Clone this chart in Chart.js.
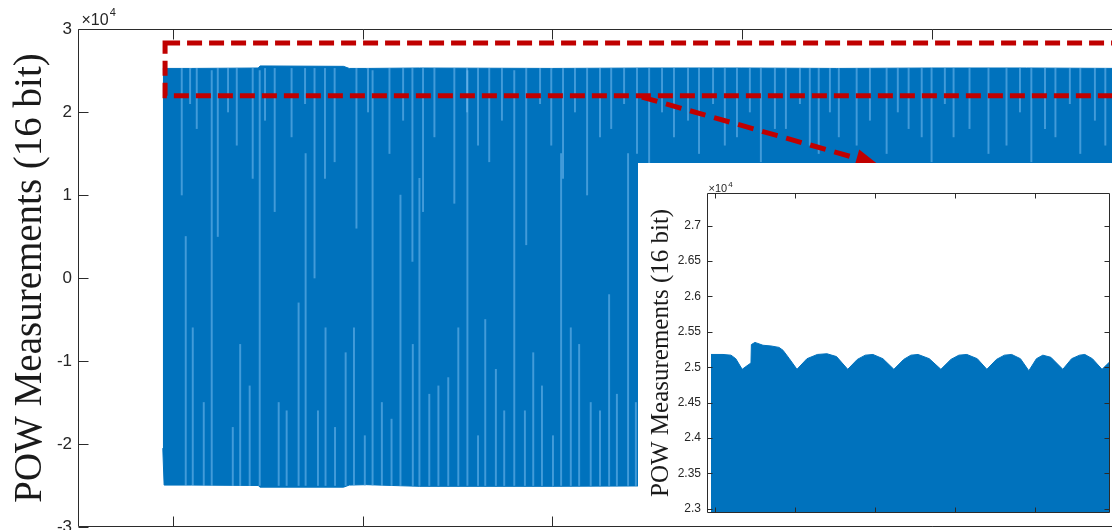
<!DOCTYPE html>
<html>
<head>
<meta charset="utf-8">
<script src="https://cdn.jsdelivr.net/npm/chart.js@4.4.0/dist/chart.umd.min.js"></script>
<style>
  html, body { margin:0; padding:0; background:#fff; overflow:hidden; }
  #wrap { position:relative; width:1112px; height:530px; overflow:hidden; }
  #main { position:absolute; left:0; top:0; }
  #inset { position:absolute; left:638px; top:163px; background:#fff; }
</style>
</head>
<body>
<div id="wrap">
<canvas id="main" width="1300" height="600"></canvas>
<canvas id="inset" width="480" height="363"></canvas>
</div>
<script>
// ---- main trace: envelope of the POW samples (raw 16 bit counts)
var mainX     = [-0.053, -0.046, 0.1, 0.45, 0.46, 0.9, 0.93, 1.02, 1.3, 2.0, 2.5, 3.0, 3.5, 4.0, 4.5, 5.0, 5.5];
var mainUpper = [25200, 25250, 25250, 25300, 25550, 25500, 25250, 25250, 25300, 25250, 25300, 25300, 25250, 25300, 25300, 25250, 25300];
var mainLower = [-20500, -24950, -24950, -25000, -25200, -25200, -24950, -24900, -25100, -25100, -25050, -25100, -25100, -25050, -25100, -25100, -25100];
var mainTicks = [-30000, -20000, -10000, 0, 10000, 20000, 30000];

// light gaps rising from the negative peaks (x, reached level)
var gapLowX  = [0.068, 0.105, 0.163, 0.205, 0.316, 0.355, 0.405, 0.458, 0.558, 0.6, 0.663, 0.7, 0.765, 0.805, 0.855, 0.911, 0.955, 1.012, 1.053, 1.102, 1.153, 1.2, 1.265, 1.3, 1.352, 1.4, 1.452, 1.505, 1.553, 1.609, 1.647, 1.703, 1.747, 1.8, 1.856, 1.9, 1.946, 2.004, 2.047, 2.098, 2.142, 2.203, 2.252, 2.3, 2.341, 2.4, 2.441];
var gapLowTo = [5000, -6000, -15000, 25000, -18000, -8000, -13000, 25000, -15000, -16000, -3000, 15000, -16000, -6000, -18000, -9000, -6000, -19000, 25000, -15000, -17000, 10000, -8000, 12000, -14000, -13000, -12000, -6000, 25000, -19000, -5000, -11000, -16000, 25000, -16000, -9000, -13000, -19000, 15000, -6000, -8000, -15000, -16000, -2000, -14000, 15000, -15000];

// light gaps hanging from the positive peaks (x, reached level)
var gapHighX    = [0.047, 0.091, 0.126, 0.237, 0.291, 0.337, 0.421, 0.486, 0.537, 0.626, 0.697, 0.747, 0.802, 0.853, 0.968, 1.029, 1.142, 1.214, 1.263, 1.319, 1.379, 1.484, 1.551, 1.609, 1.668, 1.735, 1.863, 1.936, 1.995, 2.057, 2.12, 2.184, 2.252, 2.311, 2.379, 2.447, 2.511, 2.579, 2.642, 2.716, 2.774, 2.848, 2.91, 2.974, 3.042, 3.1, 3.174, 3.232, 3.306, 3.358, 3.405, 3.464, 3.511, 3.605, 3.675, 3.763, 3.822, 3.879, 3.948, 4.0, 4.07, 4.116, 4.2, 4.3, 4.395, 4.466, 4.526, 4.598, 4.653, 4.729, 4.784, 4.861, 4.916];
var gapHighFrom = [10000, 21000, 18000, 5000, 20000, 16000, 12000, 19000, 8000, 17000, 21000, 0, 12000, 14000, 6000, 20000, 15000, 19000, 2000, 8000, 17000, 9000, 20000, 16000, 14000, 19000, 4000, 21000, 16000, 12000, 20000, 10000, 17000, 18000, 21000, 15000, 12000, 20000, 17000, 19000, 15000, 21000, 16000, 17000, 20000, 14000, 18000, 18000, 21000, 16000, 15000, 20000, 17000, 16000, 19000, 15000, 20000, 18000, 17000, 14000, 21000, 17000, 18000, 15000, 16000, 20000, 14000, 18000, 17000, 21000, 15000, 19000, 16000];

// ---- zoomed inset: top envelope of the samples
var insetX   = [-0.05, 0.1, 0.2, 0.26, 0.34, 0.4, 0.45, 0.455, 0.5, 0.525, 0.6, 0.7, 0.8, 0.85, 0.93, 1.025, 1.15, 1.28, 1.4, 1.52, 1.66, 1.78, 1.88, 1.975, 2.1, 2.237, 2.36, 2.45, 2.54, 2.68, 2.825, 2.95, 3.05, 3.15, 3.28, 3.4, 3.52, 3.62, 3.71, 3.82, 3.925, 4.02, 4.1, 4.2, 4.35, 4.46, 4.56, 4.625, 4.72, 4.84, 4.94];
var insetTop = [25180, 25180, 25170, 25120, 24970, 25020, 25060, 25320, 25350, 25340, 25310, 25300, 25280, 25240, 25120, 24970, 25120, 25180, 25190, 25150, 24970, 25110, 25170, 25180, 25120, 24970, 25110, 25170, 25180, 25120, 24970, 25110, 25170, 25180, 25120, 24970, 25110, 25170, 25180, 25120, 24950, 25120, 25170, 25140, 24970, 25120, 25170, 25180, 25120, 24970, 25080];
var insetTicks = [23000, 23500, 24000, 24500, 25000, 25500, 26000, 26500, 27000];

// annotation: zoom window and arrow (data units of the main axes)
var boxX = [-0.041, 5.45];
var boxY = [21950, 28300];
var arrowFrom = [2.473, 21800];
var arrowTo = [3.717, 13700];

var blue = 'rgb(0,114,189)';
var gapColor = 'rgba(120,190,240,0.55)';

function tickLabel(v) { return String(Math.round(v / 100) / 100); }
function fixedTicks(list) {
  return function(scale) { scale.ticks = list.map(function(v) { return {value: v}; }); };
}

var axesBox = {
  id: 'axesBox',
  afterDatasetsDraw: function(chart, args, opts) {
    var ctx = chart.ctx, a = chart.chartArea;
    var xs = chart.scales.x, ys = chart.scales.y;
    var len = opts.tickLength;
    var L = Math.round(a.left) + 0.5, R = Math.round(a.right) - 0.5;
    var T = Math.round(a.top) + 0.5, B = Math.round(a.bottom) - 0.5;
    ctx.save();
    ctx.strokeStyle = '#2b2b2b';
    ctx.lineWidth = 1;
    ctx.beginPath();
    ctx.rect(L, T, R - L, B - T);
    xs.ticks.forEach(function(t) {
      var px = Math.round(xs.getPixelForValue(t.value)) + 0.5;
      ctx.moveTo(px, T); ctx.lineTo(px, T + len);
      ctx.moveTo(px, B); ctx.lineTo(px, B - len);
    });
    ys.ticks.forEach(function(t) {
      var py = Math.round(ys.getPixelForValue(t.value)) + 0.5;
      ctx.moveTo(L, py); ctx.lineTo(L + len, py);
      ctx.moveTo(R, py); ctx.lineTo(R - len, py);
    });
    ctx.stroke();
    // x10^4 exponent
    ctx.fillStyle = '#262626';
    ctx.textAlign = 'left';
    ctx.textBaseline = 'alphabetic';
    ctx.font = opts.expSize + 'px "Liberation Sans"';
    var base = '\u00d710';
    ctx.fillText(base, L + opts.expDx, T - opts.expDy);
    var w = ctx.measureText(base).width;
    ctx.font = opts.supSize + 'px "Liberation Sans"';
    ctx.fillText('4', L + opts.expDx + w + 1, T - opts.expDy - opts.supRise);
    ctx.restore();
  }
};

var zoomMarker = {
  id: 'zoomMarker',
  afterDraw: function(chart) {
    var ctx = chart.ctx, xs = chart.scales.x, ys = chart.scales.y;
    var x0 = xs.getPixelForValue(boxX[0]), x1 = xs.getPixelForValue(boxX[1]);
    var y0 = ys.getPixelForValue(boxY[1]), y1 = ys.getPixelForValue(boxY[0]);
    ctx.save();
    ctx.strokeStyle = '#c00000';
    ctx.lineWidth = 5;
    ctx.setLineDash([15, 7]);
    ctx.strokeRect(x0, y0, x1 - x0, y1 - y0);
    var ax = xs.getPixelForValue(arrowFrom[0]), ay = ys.getPixelForValue(arrowFrom[1]);
    var bx = xs.getPixelForValue(arrowTo[0]), by = ys.getPixelForValue(arrowTo[1]);
    var ang = Math.atan2(by - ay, bx - ax), head = 22, hw = 9;
    var hx = bx - head * Math.cos(ang), hy = by - head * Math.sin(ang);
    ctx.setLineDash([16, 9]);
    ctx.beginPath(); ctx.moveTo(ax, ay); ctx.lineTo(hx, hy); ctx.stroke();
    ctx.setLineDash([]);
    ctx.fillStyle = '#c00000';
    ctx.beginPath();
    ctx.moveTo(bx, by);
    ctx.lineTo(hx + hw * Math.sin(ang), hy - hw * Math.cos(ang));
    ctx.lineTo(hx - hw * Math.sin(ang), hy + hw * Math.cos(ang));
    ctx.closePath();
    ctx.fill();
    ctx.restore();
  }
};

var upperPts = mainX.map(function(x, i) { return {x: x, y: mainUpper[i]}; });
var lowerPts = mainX.map(function(x, i) { return {x: x, y: mainLower[i]}; });
var lowGapPts = gapLowX.map(function(x, i) { return {x: x, y: [-25000, gapLowTo[i]]}; });
var highGapPts = gapHighX.map(function(x, i) { return {x: x, y: [gapHighFrom[i], 25250]}; });

new Chart(document.getElementById('main'), {
  type: 'line',
  data: {
    datasets: [
      { data: upperPts, borderColor: blue, backgroundColor: blue, borderWidth: 1, pointRadius: 0, fill: '+1', order: 1 },
      { data: lowerPts, borderColor: blue, backgroundColor: blue, borderWidth: 1, pointRadius: 0, fill: false, order: 1 },
      { type: 'bar', data: lowGapPts, backgroundColor: gapColor, borderWidth: 0, barThickness: 1.3, grouped: false, order: 0 },
      { type: 'bar', data: highGapPts, backgroundColor: gapColor, borderWidth: 0, barThickness: 1.3, grouped: false, order: 0 }
    ]
  },
  options: {
    responsive: false,
    animation: false,
    devicePixelRatio: 1,
    layout: { padding: { top: 29, right: 82, left: 0, bottom: 0 } },
    plugins: {
      legend: { display: false },
      tooltip: { enabled: false },
      axesBox: { tickLength: 10, expSize: 16, supSize: 11, expDx: 3, expDy: 5, supRise: 9 }
    },
    scales: {
      x: {
        type: 'linear', min: -0.5, max: 5.51, offset: false,
        grid: { display: false, drawTicks: false, offset: false }, border: { display: false },
        ticks: { stepSize: 1, display: false, includeBounds: false },
        afterFit: function(s) { s.height = 73; }
      },
      y: {
        min: -30000, max: 30000,
        grid: { display: false, drawTicks: false }, border: { display: false },
        afterBuildTicks: fixedTicks(mainTicks),
        ticks: { padding: 6, color: '#262626', font: { family: 'Liberation Sans', size: 17 }, callback: tickLabel },
        title: { display: true, text: 'POW Measurements (16 bit)', color: '#1a1a1a', font: { family: 'Liberation Serif', size: 39, lineHeight: 1 }, padding: { top: 11, bottom: 0 } },
        afterFit: function(s) { s.width = 78; }
      }
    }
  },
  plugins: [axesBox, zoomMarker]
});

var insetPts = insetX.map(function(x, i) { return {x: x, y: insetTop[i]}; });

new Chart(document.getElementById('inset'), {
  type: 'line',
  data: {
    datasets: [
      { data: insetPts, borderColor: blue, backgroundColor: blue, borderWidth: 1, pointRadius: 0, fill: 'start', tension: 0 }
    ]
  },
  options: {
    responsive: false,
    animation: false,
    devicePixelRatio: 1,
    layout: { padding: { top: 30, right: 8, left: 0, bottom: 0 } },
    plugins: {
      legend: { display: false },
      tooltip: { enabled: false },
      axesBox: { tickLength: 5, expSize: 11, supSize: 8, expDx: 1, expDy: 2, supRise: 5 }
    },
    scales: {
      x: {
        type: 'linear', min: -0.1, max: 4.94, offset: false,
        grid: { display: false, drawTicks: false }, border: { display: false },
        ticks: { stepSize: 1, display: false, includeBounds: false },
        afterFit: function(s) { s.height = 8; }
      },
      y: {
        min: 22944, max: 27460,
        grid: { display: false, drawTicks: false }, border: { display: false },
        afterBuildTicks: fixedTicks(insetTicks),
        ticks: { padding: 6, color: '#262626', font: { family: 'Liberation Sans', size: 12 }, callback: tickLabel },
        title: { display: true, text: 'POW Measurements (16 bit)', color: '#1a1a1a', font: { family: 'Liberation Serif', size: 25, lineHeight: 1 }, padding: { top: 11, bottom: 0 } },
        afterFit: function(s) { s.width = 69; }
      }
    }
  },
  plugins: [axesBox]
});
</script>
</body>
</html>
